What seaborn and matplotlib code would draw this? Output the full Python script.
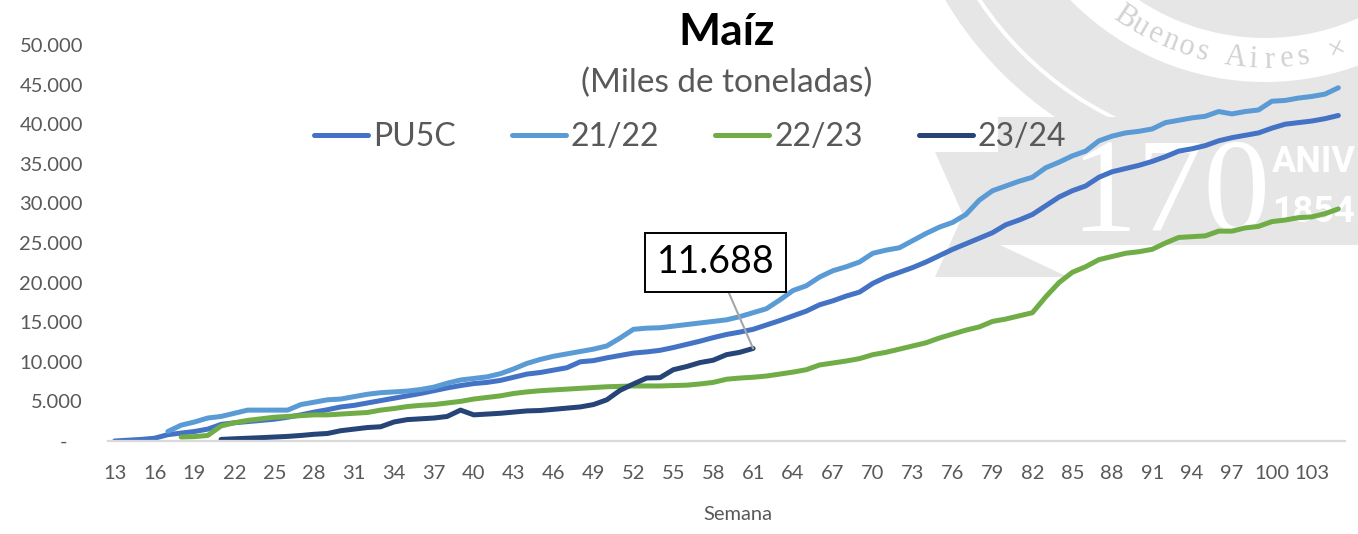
import matplotlib
matplotlib.use("Agg")
import matplotlib.pyplot as plt
from matplotlib.patches import Rectangle, Polygon, Circle, Wedge
from matplotlib.transforms import Affine2D
from matplotlib.ticker import FuncFormatter
import numpy as np
import pandas as pd
import seaborn as sns

# ---- data: cumulative maize commitments (miles de toneladas) per week ----
semanas_pu5c = list(range(13, 106))
pu5c = [0, 100, 200, 350, 800, 1000, 1200, 1500, 2100, 2300,
        2450, 2600, 2750, 3000, 3300, 3650, 3950, 4300, 4500, 4800,
        5100, 5400, 5700, 6000, 6350, 6700, 7000, 7250, 7400, 7650,
        8050, 8450, 8650, 8950, 9250, 10000, 10150, 10500, 10800, 11100,
        11250, 11450, 11800, 12200, 12600, 13050, 13450, 13750, 14100, 14650,
        15200, 15800, 16400, 17200, 17700, 18300, 18800, 19900, 20700, 21300,
        21900, 22600, 23400, 24200, 24900, 25600, 26300, 27300, 27900, 28600,
        29700, 30800, 31600, 32200, 33300, 34000, 34400, 34800, 35300, 35900,
        36600, 36900, 37300, 37900, 38300, 38600, 38900, 39500, 40000, 40200,
        40400, 40700, 41100]

semanas_2122 = list(range(17, 106))
v_2122 = [1200, 2000, 2400, 2900, 3100, 3500, 3900, 3900, 3900, 3900,
          4600, 4900, 5200, 5300, 5600, 5900, 6100, 6200, 6300, 6500,
          6800, 7300, 7700, 7900, 8100, 8500, 9100, 9800, 10300, 10700,
          11000, 11300, 11600, 12000, 13000, 14100, 14250, 14300, 14500, 14700,
          14900, 15100, 15300, 15700, 16200, 16700, 17800, 19000, 19600, 20700,
          21500, 22000, 22600, 23700, 24100, 24400, 25300, 26200, 27000, 27600,
          28600, 30400, 31600, 32200, 32800, 33300, 34500, 35200, 36000, 36600,
          37900, 38500, 38900, 39100, 39400, 40200, 40500, 40800, 41000, 41600,
          41300, 41600, 41800, 42900, 43000, 43300, 43500, 43800, 44600]

semanas_2223 = list(range(18, 106))
v_2223 = [500, 550, 700, 1900, 2300, 2600, 2800, 3000, 3100, 3200,
          3300, 3300, 3400, 3500, 3600, 3900, 4100, 4350, 4500, 4600,
          4800, 5000, 5300, 5500, 5700, 6000, 6200, 6350, 6450, 6550,
          6650, 6750, 6850, 6900, 6950, 6950, 6950, 7000, 7050, 7200,
          7400, 7800, 7950, 8050, 8200, 8450, 8700, 9000, 9600, 9850,
          10100, 10400, 10900, 11200, 11600, 12000, 12400, 13000, 13500, 14000,
          14400, 15100, 15400, 15800, 16200, 18200, 20000, 21300, 22000, 22900,
          23300, 23700, 23900, 24200, 25000, 25700, 25800, 25900, 26500, 26500,
          26900, 27100, 27700, 27900, 28200, 28300, 28700, 29300]

semanas_2324 = list(range(21, 62))
v_2324 = [200, 280, 350, 420, 500, 580, 700, 850, 950, 1300,
          1500, 1700, 1800, 2400, 2700, 2800, 2900, 3100, 3900, 3300,
          3400, 3500, 3650, 3800, 3850, 4000, 4150, 4300, 4600, 5200,
          6400, 7200, 7950, 8000, 9000, 9400, 9900, 10200, 10900, 11200,
          11688]

series = ["PU5C", "21/22", "22/23", "23/24"]
colores = ["#4472C4", "#5B9BD5", "#70AD47", "#264478"]
x_ticks = list(range(13, 104, 3))
y_ticks = list(range(0, 50001, 5000))

df = pd.concat([
    pd.DataFrame({"Semana": semanas_pu5c, "valor": pu5c, "Serie": series[0]}),
    pd.DataFrame({"Semana": semanas_2122, "valor": v_2122, "Serie": series[1]}),
    pd.DataFrame({"Semana": semanas_2223, "valor": v_2223, "Serie": series[2]}),
    pd.DataFrame({"Semana": semanas_2324, "valor": v_2324, "Serie": series[3]}),
], ignore_index=True)

# ---- figure ----
sns.set_theme(style="white")
plt.rcParams["font.family"] = ["Lato", "DejaVu Sans"]

W, H = 1358, 534
fig = plt.figure(figsize=(W / 100, H / 100), dpi=100)
fig.patch.set_facecolor("white")

# pixel coordinates, origin top-left
px = Affine2D().scale(1, -1).translate(0, H) + Affine2D().scale(1 / W, 1 / H) + fig.transFigure

# ---- anniversary watermark behind the plot ----
wm = "#E6E6E6"
cx, cy = 1265, -190
fig.add_artist(Circle((cx, cy), 372, transform=px, fc=wm, ec="none", zorder=-5))
fig.add_artist(Wedge((cx, cy), 272, 0, 360, width=44, transform=px, fc="white", ec="none", zorder=-4))
fig.add_artist(Wedge((cx, cy), 345, 0, 360, width=4, transform=px, fc="white", ec="none", zorder=-4))
lema = "Buenos Aires ×"
r_lema = 250
for i, ch in enumerate(lema):
    phi = 124 - i * 3.9          # degrees, measured downward from +x
    tx = cx + r_lema * np.cos(np.deg2rad(phi))
    ty = cy + r_lema * np.sin(np.deg2rad(phi))
    fig.text(tx, ty, ch, transform=px, ha="center", va="center", fontsize=22,
             family="Liberation Serif", color="#D2D2D2", rotation=90 - phi, zorder=-3)
fig.add_artist(Polygon([(935, 152), (1000, 152), (1000, 245), (1068, 277), (935, 277), (963, 215)],
                       closed=True, transform=px, fc=wm, ec="none", zorder=-4))
fig.add_artist(Rectangle((998, 117), 400, 128, transform=px, fc=wm, ec="none", zorder=-4))
fig.text(1170, 231, "170", transform=px, ha="center", va="baseline", fontsize=96,
         family="Liberation Serif", color="white", zorder=-3)
fig.text(1272, 172, "ANIV", transform=px, ha="left", va="baseline", fontsize=26,
         family="Roboto", fontweight="bold", color="white", zorder=-3)
fig.text(1272, 222, "1854", transform=px, ha="left", va="baseline", fontsize=26,
         family="Roboto", fontweight="bold", color="white", zorder=-3)

# ---- plot area ----
ax = fig.add_axes([108 / W, (H - 441) / H, 1237 / W, 396 / H])
ax.set_zorder(2)
ax.patch.set_alpha(0)

sns.lineplot(data=df, x="Semana", y="valor", hue="Serie", hue_order=series,
             palette=colores, linewidth=3.6, ax=ax, sort=True)
for ln in ax.lines:
    ln.set_solid_capstyle("round")
    ln.set_solid_joinstyle("round")

ax.set_xlim(12.5, 105.5)
ax.set_ylim(0, 50000)
ax.set_xticks(x_ticks)
ax.set_yticks(y_ticks)
ax.yaxis.set_major_formatter(FuncFormatter(
    lambda v, p: "-   " if v == 0 else f"{v:,.0f}".replace(",", ".")))
ax.tick_params(axis="x", length=0, pad=17, labelsize=14.5, labelcolor="#595959")
ax.tick_params(axis="y", length=0, pad=18, labelsize=14.5, labelcolor="#595959")
for side in ["top", "right", "left"]:
    ax.spines[side].set_visible(False)
ax.spines["bottom"].set_color("#D9D9D9")
ax.spines["bottom"].set_linewidth(1.6)
ax.grid(False)

ax.set_ylabel("")
ax.set_xlabel("Semana", fontsize=14.5, color="#595959")
ax.xaxis.set_label_coords((738 - 108) / 1237, (441 - 514) / 396)
ax.xaxis.label.set_va("center")

# legend
handles, labels = ax.get_legend_handles_labels()
ax.legend(handles, labels, loc="center", bbox_to_anchor=(690 / W, 1 - 137 / H),
          bbox_transform=fig.transFigure, ncol=4, frameon=False, fontsize=23,
          handlelength=1.7, handletextpad=0.15, columnspacing=1.75,
          labelcolor="#595959")

# label for the latest value of the current campaign
ult_sem, ult_val = semanas_2324[-1], v_2324[-1]
ax.annotate(f"{ult_val:,.0f}".replace(",", "."), xy=(ult_sem, ult_val),
            xytext=(-27, 62), textcoords="offset points", ha="center", va="center",
            fontsize=27, color="black",
            bbox=dict(boxstyle="square,pad=0.3", fc="white", ec="black", lw=1.4),
            arrowprops=dict(arrowstyle="-", color="#A6A6A6", lw=1.5, shrinkA=0, shrinkB=0))

# titles
fig.text(727 / W, 1 - 45 / H, "Maíz", ha="center", va="baseline",
         fontsize=32, fontweight="bold", color="black")
fig.text(727 / W, 1 - 92 / H, "(Miles de toneladas)", ha="center", va="baseline",
         fontsize=24, color="#595959")

fig.savefig("out.png", dpi=100)
